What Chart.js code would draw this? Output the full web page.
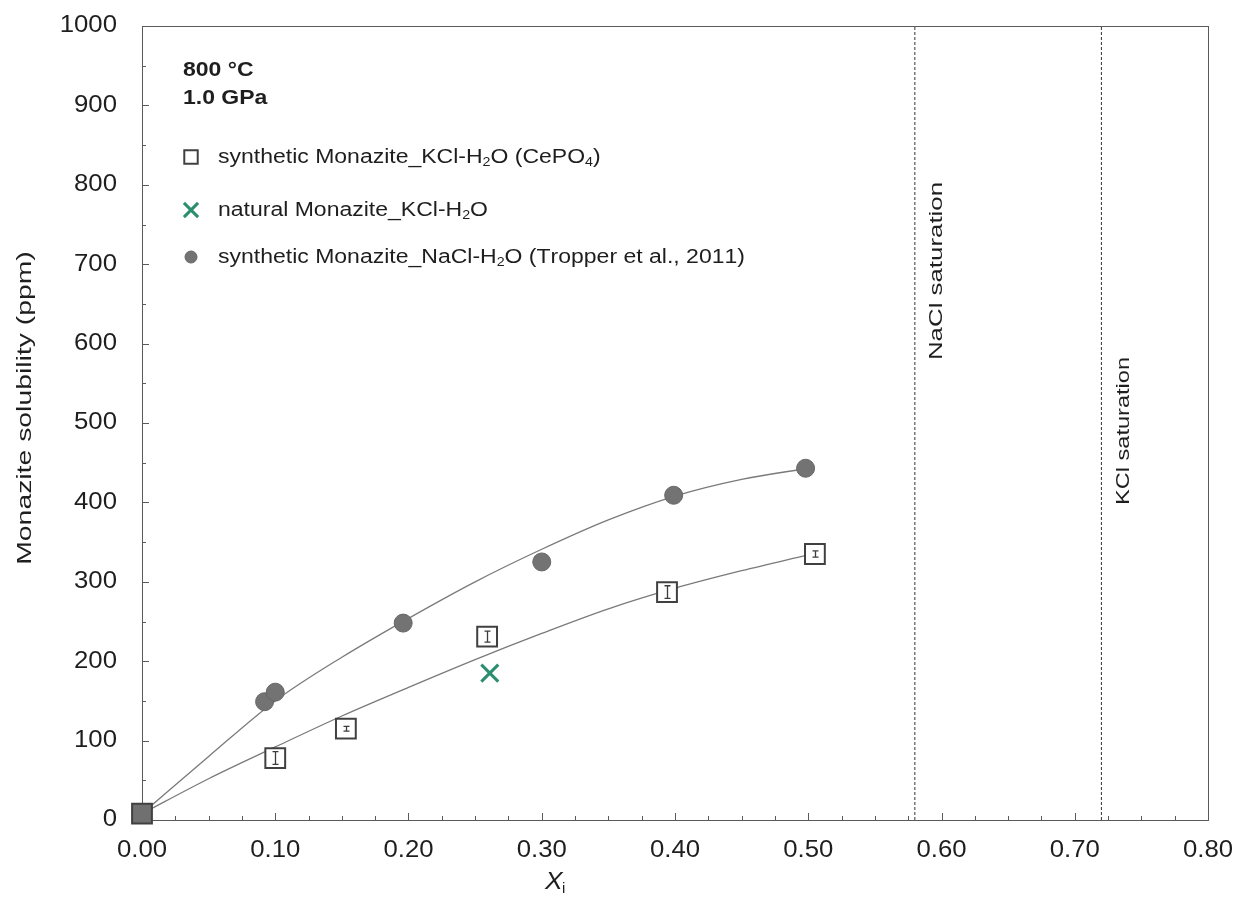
<!DOCTYPE html>
<html>
<head>
<meta charset="utf-8">
<title>Monazite solubility</title>
<script src="https://cdn.jsdelivr.net/npm/chart.js@4.4.1/dist/chart.umd.min.js"></script>
<style>
  html, body { margin: 0; padding: 0; background: #fff; }
  #wrap { width: 1239px; height: 903px; position: relative; }
</style>
</head>
<body>
<div id="wrap"><canvas id="chart"></canvas></div>
<script>
// ---- data ----
const xTickLabels = ["0.00", "0.10", "0.20", "0.30", "0.40", "0.50", "0.60", "0.70", "0.80"];
const yTickLabels = ["0", "100", "200", "300", "400", "500", "600", "700", "800", "900", "1000"];

// synthetic monazite in KCl-H2O (open squares)
const kclX = [0.0, 0.100, 0.153, 0.259, 0.394, 0.505];
const kclY = [8, 78, 115, 231, 287, 335];
const kclErr = [0, 8, 3, 7, 8, 4];

// natural monazite in KCl-H2O (green cross)
const naturalX = [0.261];
const naturalY = [185];

// synthetic monazite in NaCl-H2O, Tropper et al. 2011 (grey dots)
const naclX = [0.0, 0.092, 0.100, 0.196, 0.300, 0.399, 0.498];
const naclY = [8, 149, 161, 248, 325, 409, 443];

// fitted curves
const fitX = [0.00, 0.05, 0.10, 0.15, 0.20, 0.25, 0.30, 0.35, 0.40, 0.45, 0.50];
const naclFitY = [8, 80, 150, 205, 254, 300, 341, 378, 408, 429, 443];
const kclFitY = [8, 52, 92, 131, 167, 202, 235, 266, 292, 314, 334];

// saturation limits
const satX = [0.58, 0.72];
const satLabels = ["NaCl saturation", "KCl saturation"];

const FONT = '"Liberation Sans", Arial, sans-serif';
const INK = "#1e1e1e";
const SUBS = "₀₁₂₃₄₅₆₇₈₉";

const pts = (xs, ys) => xs.map((x, i) => ({ x, y: ys[i] }));

/* ---------- text helpers ---------- */
function richText(ctx, text, x, y, size, stretch, weight = "") {
  ctx.save();
  ctx.translate(x, y);
  ctx.scale(stretch, 1);
  ctx.textAlign = "left";
  ctx.textBaseline = "middle";
  ctx.fillStyle = INK;
  let cx = 0;
  for (const ch of text) {
    const s = SUBS.indexOf(ch);
    if (s >= 0) {
      ctx.font = `${weight} ${size * 0.62}px ${FONT}`;
      ctx.fillText(String(s), cx, size * 0.3);
      cx += ctx.measureText(String(s)).width;
    } else {
      ctx.font = `${weight} ${size}px ${FONT}`;
      ctx.fillText(ch, cx, 0);
      cx += ctx.measureText(ch).width;
    }
  }
  ctx.restore();
}

function plainText(ctx, text, x, y, { size, stretch = 1, align = "center", rotate = 0, font = "" }) {
  ctx.save();
  ctx.translate(x, y);
  if (rotate) ctx.rotate(rotate);
  ctx.scale(stretch, 1);
  ctx.font = `${font} ${size}px ${FONT}`;
  ctx.fillStyle = INK;
  ctx.textAlign = align;
  ctx.textBaseline = "middle";
  ctx.fillText(text, 0, 0);
  ctx.restore();
}

/* ---------- frame, ticks, labels ---------- */
const framePlugin = {
  id: "frame",
  beforeDatasetsDraw(chart) {
    const { ctx, chartArea: a, scales: { x, y } } = chart;
    ctx.save();
    ctx.strokeStyle = "#5a5a5a";
    ctx.lineWidth = 1;
    ctx.strokeRect(a.left + 0.5, a.top + 0.5, a.right - a.left, a.bottom - a.top);

    ctx.beginPath();
    for (let v = 0; v <= 1000.01; v += 50) {
      const py = Math.round(y.getPixelForValue(v)) + 0.5;
      const len = v % 100 === 0 ? 7 : 4;
      ctx.moveTo(a.left, py);
      ctx.lineTo(a.left + len, py);
    }
    for (let v = 0; v <= 0.8001; v += 0.025) {
      const px = Math.round(x.getPixelForValue(v)) + 0.5;
      const len = Math.abs(v * 10 - Math.round(v * 10)) < 1e-6 ? 7 : 4;
      ctx.moveTo(px, a.bottom);
      ctx.lineTo(px, a.bottom - len);
    }
    ctx.stroke();
    ctx.restore();
  },
  afterDatasetsDraw(chart) {
    const { ctx, scales: { x, y } } = chart;
    // error bars on the KCl squares
    ctx.save();
    ctx.strokeStyle = "#3c3c3c";
    ctx.lineWidth = 1.3;
    ctx.beginPath();
    kclX.forEach((v, i) => {
      if (!kclErr[i]) return;
      const px = Math.round(x.getPixelForValue(v)) + 0.5;
      const y1 = y.getPixelForValue(kclY[i] - kclErr[i]);
      const y2 = y.getPixelForValue(kclY[i] + kclErr[i]);
      ctx.moveTo(px, y1); ctx.lineTo(px, y2);
      ctx.moveTo(px - 3, y1); ctx.lineTo(px + 3, y1);
      ctx.moveTo(px - 3, y2); ctx.lineTo(px + 3, y2);
    });
    ctx.stroke();
    ctx.restore();
  },
  afterDraw(chart) {
    const { ctx, chartArea: a, scales: { x, y } } = chart;

    // tick labels
    yTickLabels.forEach((t) => {
      plainText(ctx, t, 117, y.getPixelForValue(+t), { size: 23, stretch: 1.12, align: "right" });
    });
    xTickLabels.forEach((t) => {
      plainText(ctx, t, x.getPixelForValue(+t), 851, { size: 23, stretch: 1.12 });
    });

    // axis titles
    plainText(ctx, "Monazite solubility (ppm)", 25, 408, { size: 21, stretch: 1.35, rotate: -Math.PI / 2 });
    plainText(ctx, "X", 545, 882, { size: 24, stretch: 1.1, align: "left", font: "italic" });
    plainText(ctx, "i", 562, 889, { size: 15, align: "left" });

    // saturation labels
    const satY = [271, 431];
    const satStretch = [1.36, 1.24];
    satX.forEach((v, i) => {
      plainText(ctx, satLabels[i], x.getPixelForValue(v) + 22, satY[i],
        { size: 19, stretch: satStretch[i], rotate: -Math.PI / 2 });
    });

    // conditions + legend
    richText(ctx, "800 °C", 183, 70, 20, 1.15, "bold");
    richText(ctx, "1.0 GPa", 183, 98, 20, 1.15, "bold");

    const rows = [157, 210, 257];
    const sizes = [9.5, 10, 6];
    [0, 1, 2].forEach((di, r) => {
      const ds = chart.data.datasets[di];
      ctx.save();
      ctx.lineWidth = ds.pointBorderWidth;
      ctx.strokeStyle = ds.pointBorderColor;
      ctx.fillStyle = di === 0 ? "#fff" : ds.pointBackgroundColor;
      Chart.helpers.drawPoint(ctx, { pointStyle: ds.pointStyle, radius: sizes[r], borderWidth: ds.pointBorderWidth }, 191, rows[r]);
      ctx.restore();
      richText(ctx, ds.label, 218, rows[r], 20, 1.15);
    });
  },
};

new Chart(document.getElementById("chart"), {
  type: "scatter",
  data: {
    datasets: [
      {
        label: "synthetic Monazite_KCl-H₂O (CePO₄)",
        data: pts(kclX, kclY),
        pointStyle: "rect",
        pointRadius: 14,
        pointBorderWidth: 2,
        pointBorderColor: "#404040",
        pointBackgroundColor: kclX.map((v) => (v === 0 ? "#707070" : "#ffffff")),
        clip: false,
        order: 1,
      },
      {
        label: "natural Monazite_KCl-H₂O",
        data: pts(naturalX, naturalY),
        pointStyle: "crossRot",
        pointRadius: 12,
        pointBorderWidth: 3,
        pointBorderColor: "#2b8f6f",
        pointBackgroundColor: "#2b8f6f",
        clip: false,
        order: 0,
      },
      {
        label: "synthetic Monazite_NaCl-H₂O (Tropper et al., 2011)",
        data: pts(naclX, naclY),
        pointStyle: "circle",
        pointRadius: 9,
        pointBorderWidth: 1,
        pointBorderColor: "#666666",
        pointBackgroundColor: "#737373",
        clip: false,
        order: 2,
      },
      {
        label: "fit NaCl",
        type: "line",
        data: pts(fitX, naclFitY),
        borderColor: "#7a7a7a",
        borderWidth: 1.3,
        pointRadius: 0,
        cubicInterpolationMode: "monotone",
        order: 3,
      },
      {
        label: "fit KCl",
        type: "line",
        data: pts(fitX, kclFitY),
        borderColor: "#7a7a7a",
        borderWidth: 1.3,
        pointRadius: 0,
        cubicInterpolationMode: "monotone",
        order: 3,
      },
      ...satX.map((v, i) => ({
        label: satLabels[i],
        type: "line",
        data: [{ x: v, y: 0 }, { x: v, y: 1000 }],
        borderColor: "#333333",
        borderWidth: 1,
        borderDash: [3, 2],
        pointRadius: 0,
        order: 4,
      })),
    ],
  },
  options: {
    responsive: true,
    maintainAspectRatio: false,
    animation: false,
    layout: { padding: { top: 26, right: 31, left: 0, bottom: 0 } },
    plugins: { legend: { display: false }, tooltip: { enabled: false } },
    scales: {
      x: {
        type: "linear",
        min: 0,
        max: 0.8,
        grid: { display: false },
        border: { display: false },
        ticks: { display: false, stepSize: 0.1 },
        afterFit: (s) => { s.height = 83; },
      },
      y: {
        min: 0,
        max: 1000,
        grid: { display: false },
        border: { display: false },
        ticks: { display: false, stepSize: 100 },
        afterFit: (s) => { s.width = 142; },
      },
    },
  },
  plugins: [framePlugin],
});
</script>
</body>
</html>
